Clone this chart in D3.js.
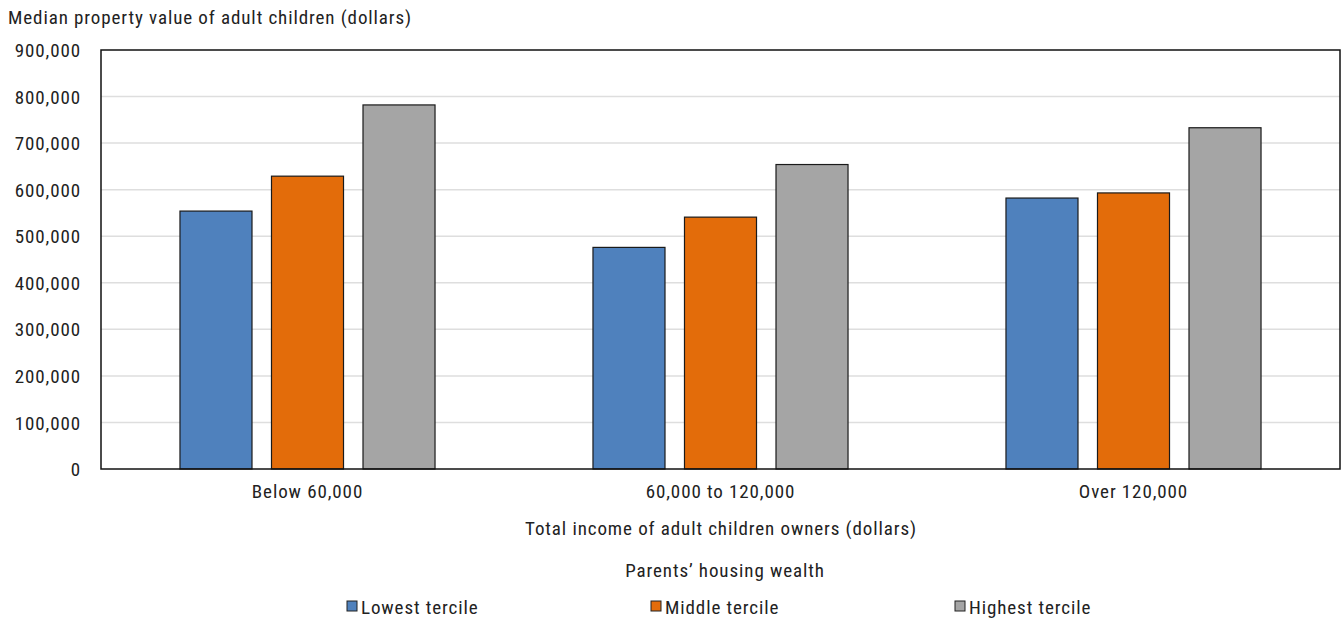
<!DOCTYPE html>
<html>
<head>
<meta charset="utf-8">
<script src="https://cdn.jsdelivr.net/npm/d3@7"></script>
<style>
  html, body { margin: 0; padding: 0; background: #fff; }
  svg { display: block; }
  text { font-family: "Roboto Condensed", "Liberation Sans Narrow", sans-serif; fill: #222; letter-spacing: 0.9px; }
</style>
</head>
<body>
<svg id="chart" width="1341" height="620"></svg>
<script>
// Income groups of adult children owners
const categories = ["Below 60,000", "60,000 to 120,000", "Over 120,000"];
// Parents' housing wealth terciles
const seriesNames = ["Lowest tercile", "Middle tercile", "Highest tercile"];
const seriesColors = ["#4f81bd", "#e36c0a", "#a5a5a5"];
// Median property value (dollars), one array per tercile
const lowestTercile = [554000, 476000, 582000];
const middleTercile = [629000, 541000, 593000];
const highestTercile = [782000, 654000, 733000];
const yTicks = [0, 100000, 200000, 300000, 400000, 500000, 600000, 700000, 800000, 900000];

const seriesValues = [lowestTercile, middleTercile, highestTercile];

const svg = d3.select("#chart");
const margin = { left: 101, top: 50, right: 1340, bottom: 469 };
const FONT = 19;

const x0 = d3.scaleBand().domain(categories).range([margin.left, margin.right]).paddingInner(0).paddingOuter(0);
const x1 = d3.scaleBand().domain(seriesNames).range([0, x0.bandwidth()]).paddingInner(0.213).paddingOuter(0.863);
const y = d3.scaleLinear().domain([0, 900000]).range([margin.bottom, margin.top]);

const fmt = d3.format(",");

// gridlines
svg.append("g")
  .selectAll("line")
  .data(yTicks.filter(d => d > 0 && d < 900000))
  .join("line")
  .attr("x1", margin.left).attr("x2", margin.right)
  .attr("y1", d => y(d)).attr("y2", d => y(d))
  .attr("stroke", "#dedede").attr("stroke-width", 1.5);

// y axis labels
const yAxis = d3.axisLeft(y).tickValues(yTicks).tickFormat(fmt).tickSize(0).tickPadding(0);
const yg = svg.append("g").attr("transform", `translate(81,0)`).call(yAxis);
yg.select(".domain").remove();
yg.selectAll("text").attr("font-size", FONT).attr("fill", "#222").attr("dy", "0.35em")
  .style("font-family", '"Roboto Condensed", "Liberation Sans Narrow", sans-serif');

// bars
const groups = svg.append("g").selectAll("g")
  .data(categories)
  .join("g")
  .attr("transform", d => `translate(${x0(d)},0)`);

groups.selectAll("rect")
  .data((c, ci) => seriesNames.map((s, si) => ({ s, v: seriesValues[si][ci], color: seriesColors[si] })))
  .join("rect")
  .attr("x", d => x1(d.s))
  .attr("width", x1.bandwidth())
  .attr("y", d => y(d.v))
  .attr("height", d => y(0) - y(d.v))
  .attr("fill", d => d.color)
  .attr("stroke", "#1a1a1a").attr("stroke-width", 1.2);

// plot frame
svg.append("rect")
  .attr("x", margin.left).attr("y", margin.top)
  .attr("width", margin.right - margin.left).attr("height", margin.bottom - margin.top)
  .attr("fill", "none").attr("stroke", "#111").attr("stroke-width", 1.5);

// category labels
const xAxis = d3.axisBottom(x0).tickSize(0).tickPadding(0);
const xg = svg.append("g").attr("transform", `translate(0,${margin.bottom + 15})`).call(xAxis);
xg.select(".domain").remove();
xg.selectAll("text").attr("font-size", FONT).attr("fill", "#222").attr("dy", "0.71em")
  .style("font-family", '"Roboto Condensed", "Liberation Sans Narrow", sans-serif');

// titles
svg.append("text").attr("x", 8).attr("y", 24).attr("font-size", FONT)
  .text("Median property value of adult children (dollars)");
svg.append("text").attr("x", 721).attr("y", 535).attr("text-anchor", "middle").attr("font-size", FONT)
  .text("Total income of adult children owners (dollars)");
svg.append("text").attr("x", 725).attr("y", 577).attr("text-anchor", "middle").attr("font-size", FONT)
  .text("Parents’ housing wealth");

// legend
const legendX = [347, 651, 955];
const leg = svg.append("g").selectAll("g")
  .data(seriesNames)
  .join("g")
  .attr("transform", (d, i) => `translate(${legendX[i]},${601})`);
leg.append("rect").attr("width", 10).attr("height", 10)
  .attr("fill", (d, i) => seriesColors[i]).attr("stroke", "#222").attr("stroke-width", 1);
leg.append("text").attr("x", 14).attr("y", 13).attr("font-size", FONT).text(d => d);
</script>
</body>
</html>
